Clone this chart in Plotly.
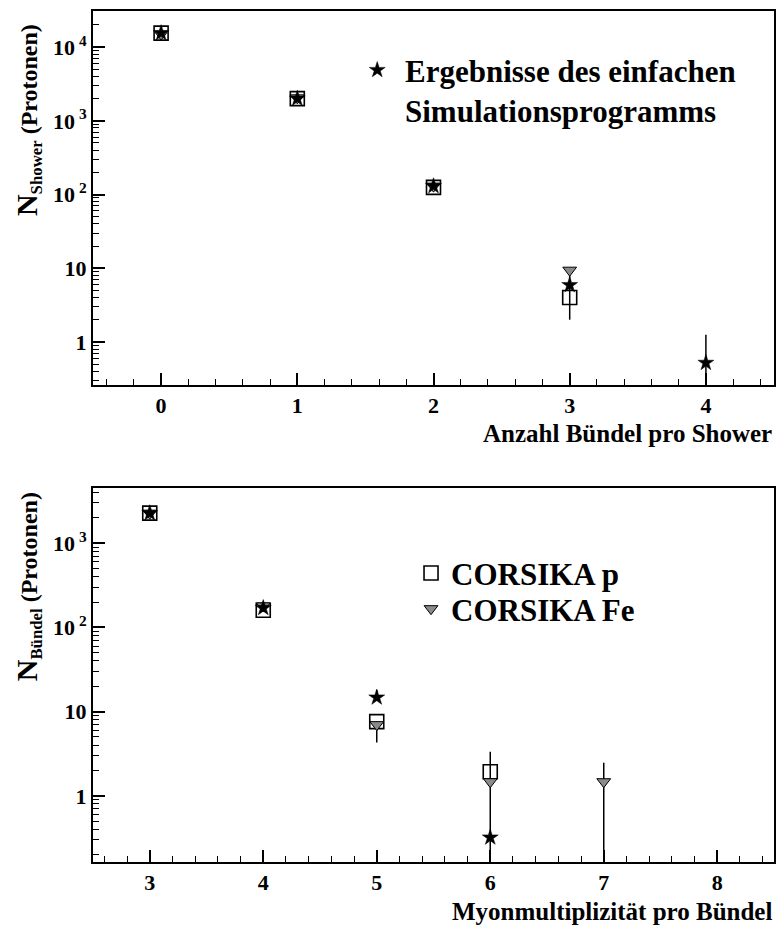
import plotly.graph_objects as go

# ---------------- data: top panel (Anzahl Bündel pro Shower) ----------------
top_x = [0, 1, 2, 3, 4]
top_p = [15500, 2000, 125, 4.0, None]
top_p_err_plus = [0, 0, 0, 4.0, 0]
top_p_err_minus = [0, 0, 0, 2.0, 0]
top_fe = [15000, 2050, 130, 9.4, None]
top_star = [15500, 2000, 130, 5.9, 0.52]
top_star_err_plus = [0, 0, 0, 0, 0.73]
top_star_err_minus = [0, 0, 0, 0, 0.50]

# ---------------- data: bottom panel (Myonmultiplizität pro Bündel) ----------------
bot_x = [3, 4, 5, 6, 7]
bot_p = [2270, 160, 7.6, 1.93, None]
bot_p_err_plus = [0, 0, 0, 1.4, 0]
bot_p_err_minus = [0, 0, 3.3, 1.9, 0]
bot_fe = [2270, 180, 7.0, 1.47, 1.47]
bot_fe_err_plus = [0, 0, 0, 0, 1.0]
bot_fe_err_minus = [0, 0, 0, 0, 1.45]
bot_star = [2270, 170, 14.7, 0.32, None]
bot_star_err_plus = [0, 0, 3.3, 0, 0]

top_xticks = [0, 1, 2, 3, 4]
bot_xticks = [3, 4, 5, 6, 7, 8]
top_yticks = [1, 10, 100, 1000, 10000]
top_yexp = [None, None, "2", "3", "4"]
bot_yticks = [1, 10, 100, 1000]
bot_yexp = [None, None, "2", "3"]

minor_log = [m * 10 ** e for e in range(-1, 5) for m in range(2, 10)]

FONT = "Liberation Serif"

def b(s):
    return "<b>" + s + "</b>"

def logtext(vals, exps):
    out = []
    for v, e in zip(vals, exps):
        if e is None:
            out.append(b(str(v)))
        else:
            out.append(b("10<sup> " + e + "</sup>"))
    return out

def ebar(plus, minus):
    return dict(type="data", symmetric=False, array=plus, arrayminus=minus,
                color="black", thickness=1.5, width=0)

sq = dict(symbol="square-open", size=14, color="black", line=dict(width=1.6, color="black"))
tri = dict(symbol="triangle-down", size=12, color="#8a8a8a", line=dict(width=1, color="black"))
star = dict(symbol="star", size=12, color="black", line=dict(width=0.5, color="black"))

fig = go.Figure()

# top panel
fig.add_trace(go.Scatter(x=top_x, y=top_p, mode="markers", marker=sq,
                         error_y=ebar(top_p_err_plus, top_p_err_minus),
                         xaxis="x", yaxis="y", showlegend=False))
fig.add_trace(go.Scatter(x=top_x, y=top_fe, mode="markers", marker=tri,
                         xaxis="x", yaxis="y", showlegend=False))
fig.add_trace(go.Scatter(x=top_x, y=top_star, mode="markers", marker=star,
                         error_y=ebar(top_star_err_plus, top_star_err_minus),
                         xaxis="x", yaxis="y", legend="legend2",
                         name=b("&nbsp;Ergebnisse des einfachen<br>&nbsp;Simulationsprogramms")))

# bottom panel
fig.add_trace(go.Scatter(x=bot_x, y=bot_p, mode="markers", marker=sq,
                         error_y=ebar(bot_p_err_plus, bot_p_err_minus),
                         xaxis="x2", yaxis="y2", name=b("CORSIKA p"), legend="legend"))
fig.add_trace(go.Scatter(x=bot_x, y=bot_fe, mode="markers", marker=tri,
                         error_y=ebar(bot_fe_err_plus, bot_fe_err_minus),
                         xaxis="x2", yaxis="y2", name=b("CORSIKA Fe"), legend="legend3"))
fig.add_trace(go.Scatter(x=bot_x, y=bot_star, mode="markers", marker=star,
                         error_y=ebar(bot_star_err_plus, [0] * 5),
                         xaxis="x2", yaxis="y2", showlegend=False))

axis_common = dict(showline=True, linewidth=2, linecolor="black", mirror=True,
                   showgrid=False, zeroline=False, ticks="inside", tickwidth=1.5,
                   tickcolor="black", tickfont=dict(size=22, family=FONT, color="black"))

leg_font = dict(family=FONT, size=31, color="black")

fig.update_layout(
    width=778, height=927,
    margin=dict(l=93, r=2, t=11, b=65),
    paper_bgcolor="white", plot_bgcolor="white",
    font=dict(family=FONT, size=22, color="black"),
    xaxis=dict(domain=[0, 1], anchor="y", range=[-0.5, 4.5], tickvals=top_xticks,
               ticktext=[b(str(v)) for v in top_xticks],
               ticklen=12, minor=dict(ticks="inside", ticklen=6, dtick=0.2, tick0=0,
                                      tickwidth=1.2, tickcolor="black"),
               **axis_common),
    yaxis=dict(domain=[0.5605, 1], anchor="x", type="log", range=[-0.585, 4.49],
               tickvals=top_yticks, ticktext=logtext(top_yticks, top_yexp), ticklen=12,
               minor=dict(ticks="inside", ticklen=6, tickvals=minor_log,
                          tickwidth=1.2, tickcolor="black"),
               **axis_common),
    xaxis2=dict(domain=[0, 1], anchor="y2", range=[2.5, 8.5], tickvals=bot_xticks,
                ticktext=[b(str(v)) for v in bot_xticks],
                ticklen=12, minor=dict(ticks="inside", ticklen=6, dtick=0.2, tick0=0,
                                       tickwidth=1.2, tickcolor="black"),
                **axis_common),
    yaxis2=dict(domain=[0, 0.4395], anchor="x2", type="log", range=[-0.786, 3.655],
                tickvals=bot_yticks, ticktext=logtext(bot_yticks, bot_yexp), ticklen=12,
                minor=dict(ticks="inside", ticklen=6, tickvals=minor_log,
                           tickwidth=1.2, tickcolor="black"),
                **axis_common),
    legend=dict(x=0.467, y=0.371, xanchor="left", yanchor="top", font=leg_font,
                bgcolor="rgba(0,0,0,0)", borderwidth=0, itemsizing="trace"),
    legend3=dict(x=0.467, y=0.329, xanchor="left", yanchor="top", font=leg_font,
                 bgcolor="rgba(0,0,0,0)", borderwidth=0, itemsizing="trace"),
    legend2=dict(x=0.388, y=0.962, xanchor="left", yanchor="top",
                 font=leg_font, valign="top",
                 bgcolor="rgba(0,0,0,0)", borderwidth=0, itemsizing="trace"),
    annotations=[
        dict(text=b("Anzahl Bündel pro Shower"), xref="paper", yref="paper",
             x=1, y=0.503, xanchor="right", yanchor="middle", showarrow=False,
             font=dict(size=25, family=FONT)),
        dict(text=b("Myonmultiplizität pro Bündel"), xref="paper", yref="paper",
             x=1, y=-0.058, xanchor="right", yanchor="middle", showarrow=False,
             font=dict(size=25, family=FONT)),
        dict(text=b("<span style='font-size:30px'>N</span><sub>Shower</sub> (Protonen)"),
             xref="paper", yref="paper", x=-0.0952, y=0.872, xanchor="center",
             yanchor="middle", textangle=-90, showarrow=False,
             font=dict(size=24, family=FONT)),
        dict(text=b("<span style='font-size:30px'>N</span><sub>Bündel</sub> (Protonen)"),
             xref="paper", yref="paper", x=-0.0952, y=0.323, xanchor="center",
             yanchor="middle", textangle=-90, showarrow=False,
             font=dict(size=24, family=FONT)),
    ],
)

fig.write_html("out.html")
